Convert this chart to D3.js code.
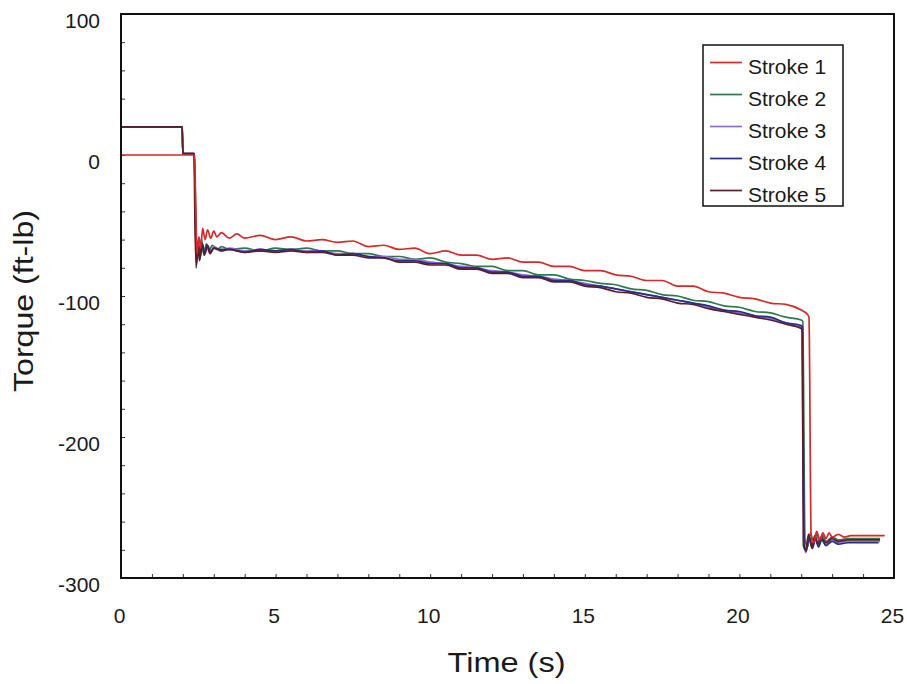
<!DOCTYPE html>
<html>
<head>
<meta charset="utf-8">
<script src="https://cdn.jsdelivr.net/npm/d3@7"></script>
<style>
  html, body { margin: 0; padding: 0; background: #ffffff; }
  svg { display: block; }
  text { font-family: "Liberation Sans", Arial, sans-serif; fill: #1a1a1a; }
</style>
</head>
<body>
<svg id="chart" width="907" height="684"></svg>
<script>
// ---------- data (time s, torque ft-lb) ----------
const seriesNames = ["Stroke 1", "Stroke 2", "Stroke 3", "Stroke 4", "Stroke 5"];
const seriesColors = ["#d42a2a", "#2e7a4c", "#8f6cd8", "#262e86", "#5c1e26"];

const stroke1 = [[0,0],[2.38,0],[2.42,-40],[2.46,-70],[2.52,-58],[2.58,-66],[2.64,-52],[2.72,-60],[2.80,-53],[2.90,-59],[3.0,-54],[3.1,-58],[3.25,-55],[3.5,-59],[3.75,-56],[4.0,-59],[4.5,-57],[5.0,-60],[5.5,-58],[6.0,-61],[6.5,-60],[7.0,-62],[7.5,-61],[8.0,-65],[8.5,-64],[9.0,-67],[9.5,-66],[10.0,-70],[10.5,-68],[11.0,-71],[11.5,-71],[12.0,-74],[12.5,-73],[13.0,-76],[13.5,-76],[14.0,-79],[14.5,-79],[15.0,-82],[15.5,-82],[16.0,-85],[16.5,-86],[17.0,-89],[17.5,-89],[18.0,-93],[18.5,-93],[19.0,-97],[19.5,-98],[20.0,-101],[20.5,-102],[21.0,-105],[21.5,-106],[22.0,-110],[22.2,-113],[22.25,-115],[22.32,-270],[22.4,-275],[22.5,-267],[22.6,-273],[22.7,-268],[22.8,-272],[22.9,-268],[23.0,-271],[23.2,-269],[23.4,-271],[23.6,-270],[24.0,-270],[24.7,-270]];

const stroke2 = [[0,20],[1.98,20],[2.0,1],[2.36,1],[2.40,-30],[2.43,-75],[2.48,-62],[2.54,-72],[2.60,-60],[2.68,-70],[2.76,-63],[2.85,-68],[2.95,-64],[3.1,-67],[3.25,-65],[3.5,-67],[4.0,-66],[4.5,-68],[5.0,-66],[5.5,-67],[6.0,-66],[6.5,-68],[7.0,-68],[7.5,-70],[8.0,-70],[8.5,-72],[9.0,-72],[9.5,-74],[10.0,-73],[10.5,-76],[11.0,-77],[11.5,-79],[12.0,-79],[12.5,-82],[13.0,-82],[13.5,-85],[14.0,-85],[14.5,-88],[15.0,-89],[15.5,-91],[16.0,-92],[16.5,-95],[17.0,-96],[17.5,-99],[18.0,-100],[18.5,-103],[19.0,-104],[19.5,-107],[20.0,-108],[20.5,-111],[21.0,-112],[21.5,-115],[22.0,-117],[22.05,-118],[22.12,-272],[22.2,-278],[22.3,-268],[22.4,-276],[22.5,-269],[22.6,-275],[22.7,-270],[22.8,-274],[23.0,-271],[23.2,-273],[23.5,-272],[24.0,-272],[24.55,-272]];

const stroke3 = [[0,20],[1.98,20],[2.0,1],[2.37,1],[2.40,-35],[2.44,-78],[2.49,-64],[2.55,-74],[2.62,-62],[2.70,-71],[2.78,-64],[2.88,-69],[3.0,-65],[3.25,-68],[3.5,-66],[4.0,-68],[4.5,-67],[5.0,-68],[5.5,-67],[6.0,-68],[6.5,-68],[7.0,-70],[7.5,-70],[8.0,-72],[8.5,-72],[9.0,-74],[9.5,-74],[10.0,-76],[10.5,-77],[11.0,-79],[11.5,-80],[12.0,-82],[12.5,-83],[13.0,-85],[13.5,-86],[14.0,-88],[14.5,-89],[15.0,-91],[15.5,-93],[16.0,-95],[16.5,-97],[17.0,-99],[17.5,-101],[18.0,-103],[18.5,-105],[19.0,-108],[19.5,-110],[20.0,-112],[20.5,-114],[21.0,-116],[21.5,-119],[22.0,-122],[22.03,-122],[22.08,-275],[22.15,-282],[22.25,-270],[22.35,-279],[22.45,-271],[22.55,-277],[22.65,-272],[22.8,-276],[23.0,-273],[23.2,-275],[23.5,-274],[24.0,-274],[24.55,-274]];

const stroke4 = [[0,20],[1.98,20],[2.0,1],[2.38,1],[2.41,-40],[2.45,-76],[2.50,-61],[2.56,-73],[2.63,-63],[2.71,-70],[2.80,-64],[2.90,-69],[3.0,-66],[3.25,-67],[3.5,-67],[4.0,-69],[4.5,-67],[5.0,-68],[5.5,-67],[6.0,-69],[6.5,-68],[7.0,-71],[7.5,-70],[8.0,-72],[8.5,-73],[9.0,-75],[9.5,-75],[10.0,-77],[10.5,-77],[11.0,-80],[11.5,-80],[12.0,-83],[12.5,-83],[13.0,-86],[13.5,-86],[14.0,-89],[14.5,-89],[15.0,-92],[15.5,-93],[16.0,-95],[16.5,-97],[17.0,-99],[17.5,-101],[18.0,-103],[18.5,-105],[19.0,-107],[19.5,-110],[20.0,-111],[20.5,-114],[21.0,-115],[21.5,-119],[22.0,-121],[22.04,-122],[22.09,-276],[22.16,-281],[22.26,-271],[22.36,-279],[22.46,-272],[22.56,-278],[22.66,-273],[22.8,-277],[23.0,-274],[23.2,-276],[23.5,-275],[24.0,-275],[24.5,-275]];

const stroke5 = [[0,20],[1.98,20],[2.0,1],[2.36,1],[2.39,-45],[2.43,-80],[2.48,-63],[2.54,-75],[2.61,-62],[2.69,-71],[2.78,-64],[2.88,-70],[3.0,-66],[3.25,-68],[3.5,-67],[4.0,-69],[4.5,-68],[5.0,-69],[5.5,-68],[6.0,-69],[6.5,-69],[7.0,-71],[7.5,-71],[8.0,-73],[8.5,-73],[9.0,-76],[9.5,-76],[10.0,-78],[10.5,-78],[11.0,-81],[11.5,-81],[12.0,-84],[12.5,-84],[13.0,-87],[13.5,-87],[14.0,-90],[14.5,-90],[15.0,-93],[15.5,-94],[16.0,-97],[16.5,-98],[17.0,-101],[17.5,-102],[18.0,-105],[18.5,-106],[19.0,-109],[19.5,-111],[20.0,-113],[20.5,-115],[21.0,-117],[21.5,-120],[22.0,-123],[22.03,-125],[22.07,-277],[22.14,-280],[22.24,-269],[22.34,-278],[22.44,-270],[22.54,-276],[22.64,-271],[22.8,-275],[23.0,-272],[23.2,-274],[23.5,-273],[24.0,-273],[24.55,-273]];

const allSeries = [stroke1, stroke2, stroke3, stroke4, stroke5];

const xTickLabels = [0, 5, 10, 15, 20, 25];
const yTickLabels = [100, 0, -100, -200, -300];
const xTitle = "Time (s)";
const yTitle = "Torque (ft-lb)";

// ---------- layout ----------
const svg = d3.select("#chart");
const L = 121, R = 894, T = 14, B = 578;

const x = d3.scaleLinear().domain([0, 25]).range([L, R]);
const y = d3.scaleLinear().domain([-300, 100]).range([B, T]);

// minor ticks (inward)
svg.append("g")
  .attr("transform", `translate(0,${B})`)
  .call(d3.axisBottom(x).tickValues(d3.range(0, 26, 1)).tickSize(-4).tickFormat(""))
  .call(g => g.select(".domain").remove())
  .call(g => g.selectAll("line").attr("stroke", "#333").attr("stroke-width", 1));

svg.append("g")
  .attr("transform", `translate(${L},0)`)
  .call(d3.axisLeft(y).tickValues(d3.range(-300, 101, 20)).tickSize(-4).tickFormat(""))
  .call(g => g.select(".domain").remove())
  .call(g => g.selectAll("line").attr("stroke", "#333").attr("stroke-width", 1));

// tick labels (plain hyphen minus)
svg.append("g")
  .attr("transform", `translate(0,${B})`)
  .call(d3.axisBottom(x).tickValues(xTickLabels).tickSize(0).tickPadding(30).tickFormat(d => String(d)))
  .call(g => g.select(".domain").remove())
  .call(g => g.selectAll("text").attr("font-size", 21).attr("font-family", "Liberation Sans, Arial, sans-serif").attr("fill", "#1a1a1a").attr("dx", -2));

svg.append("g")
  .attr("transform", `translate(${L},0)`)
  .call(d3.axisLeft(y).tickValues(yTickLabels).tickSize(0).tickPadding(21).tickFormat(d => String(d)))
  .call(g => g.select(".domain").remove())
  .call(g => g.selectAll("text").attr("font-size", 21).attr("font-family", "Liberation Sans, Arial, sans-serif").attr("fill", "#1a1a1a").attr("dy", "0.62em"));

// lines
const line = d3.line()
  .x(d => x(d[0]))
  .y(d => y(d[1]))
  .curve(d3.curveMonotoneX);

const order = [1, 2, 3, 4, 0];
svg.append("g").selectAll("path")
  .data(order)
  .join("path")
  .attr("d", i => line(allSeries[i]))
  .attr("fill", "none")
  .attr("stroke", i => seriesColors[i])
  .attr("stroke-width", 1.7)
  .attr("stroke-linejoin", "round");

// frame
svg.append("rect")
  .attr("x", L).attr("y", T)
  .attr("width", R - L).attr("height", B - T)
  .attr("fill", "none").attr("stroke", "#111").attr("stroke-width", 2);

// axis titles
svg.append("text")
  .attr("x", (L + R) / 2 - 1)
  .attr("y", 672)
  .attr("text-anchor", "middle")
  .attr("font-size", 27)
  .attr("textLength", 118)
  .attr("lengthAdjust", "spacingAndGlyphs")
  .text(xTitle);

svg.append("text")
  .attr("transform", `translate(33,301) rotate(-90)`)
  .attr("text-anchor", "middle")
  .attr("font-size", 27)
  .attr("textLength", 182)
  .attr("lengthAdjust", "spacingAndGlyphs")
  .text(yTitle);

// legend
const lg = svg.append("g");
lg.append("rect")
  .attr("x", 703).attr("y", 45)
  .attr("width", 140).attr("height", 161)
  .attr("fill", "#fff").attr("stroke", "#111").attr("stroke-width", 1.5);

const items = lg.selectAll("g.item")
  .data(seriesNames)
  .join("g")
  .attr("class", "item")
  .attr("transform", (d, i) => `translate(0,${62.5 + i * 32})`);

items.append("line")
  .attr("x1", 710).attr("x2", 742)
  .attr("y1", 0).attr("y2", 0)
  .attr("stroke", (d, i) => seriesColors[i])
  .attr("stroke-width", 1.7);

items.append("text")
  .attr("x", 748).attr("y", 11)
  .attr("font-size", 21)
  .text(d => d);
</script>
</body>
</html>
